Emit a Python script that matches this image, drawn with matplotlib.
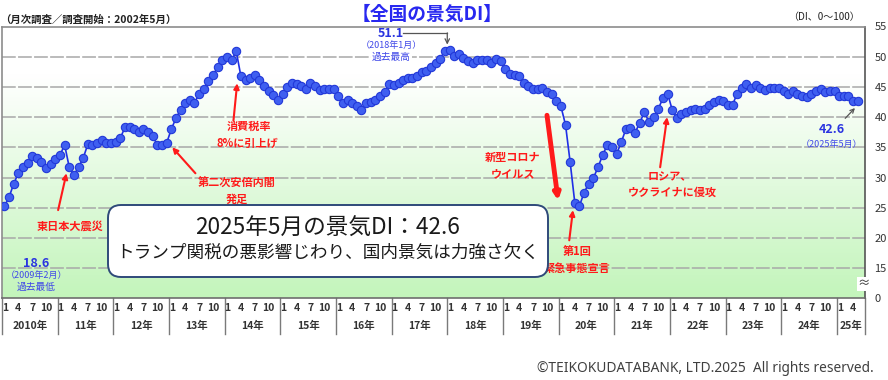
import numpy as np
import matplotlib
matplotlib.use("Agg")
import matplotlib.pyplot as plt
from matplotlib.colors import LinearSegmentedColormap
from matplotlib.patches import FancyBboxPatch

plt.rcParams['font.family'] = ['Noto Sans CJK JP', 'DejaVu Sans']

# ---- data: monthly DI, Jan 2010 .. May 2025 ----
di_values = [
    25.2, 26.7, 28.9, 30.7, 31.7, 32.4, 33.6, 33.2, 32.6, 31.5, 32.3, 33.0,   # 2010
    33.7, 35.4, 31.7, 30.4, 31.7, 33.2, 35.5, 35.3, 35.7, 36.2, 35.7, 35.7,   # 2011
    35.9, 36.5, 38.3, 38.4, 38.1, 37.6, 38.0, 37.6, 36.8, 35.4, 35.3, 35.7,   # 2012
    38.0, 39.8, 41.2, 42.4, 42.9, 42.4, 43.8, 44.6, 46.0, 46.9, 48.3, 49.4,   # 2013
    50.0, 49.4, 50.9, 46.8, 46.2, 46.4, 46.9, 46.1, 45.1, 44.4, 43.7, 42.9,   # 2014
    43.9, 45.0, 45.7, 45.5, 45.2, 44.6, 45.6, 45.1, 44.5, 44.6, 44.7, 44.7,   # 2015
    43.5, 42.4, 42.8, 42.4, 41.8, 41.2, 42.4, 42.5, 42.9, 43.5, 44.2, 45.5,   # 2016
    45.3, 45.6, 46.2, 46.4, 46.5, 46.8, 47.5, 47.7, 48.3, 49.0, 49.7, 51.0,   # 2017
    51.1, 50.1, 50.4, 49.8, 49.3, 49.0, 49.4, 49.4, 49.4, 48.9, 49.6, 49.3,   # 2018
    48.0, 47.1, 46.9, 46.8, 45.6, 45.1, 44.6, 44.6, 44.9, 44.2, 43.8, 42.7,   # 2019
    41.8, 38.7, 32.5, 25.8, 25.3, 27.5, 29.0, 29.9, 31.7, 33.7, 35.4, 35.1,   # 2020
    33.9, 35.8, 38.0, 38.2, 37.4, 39.1, 40.8, 39.2, 40.0, 41.4, 43.1, 43.9,   # 2021
    41.2, 39.8, 40.5, 40.9, 41.2, 41.4, 41.2, 41.4, 42.0, 42.5, 42.9, 42.7,   # 2022
    42.0, 42.0, 43.9, 44.8, 45.5, 44.9, 45.3, 44.9, 44.5, 44.8, 44.9, 44.9,   # 2023
    44.4, 43.8, 44.4, 43.9, 43.5, 43.3, 43.8, 44.4, 44.6, 44.2, 44.4, 44.4,   # 2024
    43.5, 43.5, 43.5, 42.7, 42.6,                                             # 2025
]
year_labels = ['2010年', '11年', '12年', '13年', '14年', '15年', '16年', '17年',
               '18年', '19年', '20年', '21年', '22年', '23年', '24年', '25年']
month_labels = ['1', '4', '7', '10']
month_offsets = [0, 3, 6, 9]
y_ticks = [10, 15, 20, 25, 30, 35, 40, 45, 50, 55]
y_tick_labels = ['0', '15', '20', '25', '30', '35', '40', '45', '50', '55']

W, H = 888, 380
fig = plt.figure(figsize=(W / 100, H / 100), dpi=100)
fig.patch.set_facecolor('white')

def fx(px):
    return px / W

def fy(py):
    return 1 - py / H

n = len(di_values)
XMIN, XMAX = -0.5, 185.5
YMIN, YMAX = 10, 55
ax = fig.add_axes([fx(2), fy(298.3), fx(864.7) - fx(2), fy(26.5) - fy(298.3)])
ax.set_xlim(XMIN, XMAX)
ax.set_ylim(YMIN, YMAX)

# background gradient
cmap = LinearSegmentedColormap.from_list('g', [(0, '#c3f5bb'), (0.82, '#ffffff'), (1, '#ffffff')])
grad = np.linspace(0, 1, 256).reshape(-1, 1)
ax.imshow(grad, extent=[XMIN, XMAX, YMIN, YMAX], origin='lower', aspect='auto',
          cmap=cmap, zorder=0)

# gridlines
for t in y_ticks[1:-1]:
    ax.axhline(t, color='#a8a8a8', lw=1.1, ls=(0, (9, 1.5)), zorder=1)

x = np.arange(n)
ax.plot(x, di_values, color='#1f2fe6', lw=1.2, marker='o', ms=6.0,
        mfc='#3f5ff0', mec='#2238d8', mew=0.8, zorder=5)

# axes styling
for s in ['left', 'top']:
    ax.spines[s].set_color('#8c8c8c')
    ax.spines[s].set_linewidth(1.2)
ax.spines['right'].set_color('#555555')
ax.spines['bottom'].set_color('#6e6e6e')
ax.spines['right'].set_linewidth(1.2)
ax.spines['bottom'].set_linewidth(1.2)
ax.set_xticks([])
ax.yaxis.tick_right()
ax.set_yticks(y_ticks)
ax.set_yticklabels(y_tick_labels, fontsize=8, color='#333333')
ax.tick_params(axis='y', length=0, pad=7)

# x label area (months + years)
sep_tr = ax.get_xaxis_transform()
for k in range(len(year_labels)):
    start = 12 * k
    ax.plot([start - 0.5, start - 0.5], [0, -0.13], transform=sep_tr, color='#7a7a7a',
            lw=1.0, clip_on=False)
    for off, lab in zip(month_offsets, month_labels):
        if start + off < n:
            ax.text(start + off + (0.15 if lab == '1' else 0), -0.035, lab, transform=sep_tr,
                    ha='center', va='center', fontsize=7.5, fontweight='bold', color='#333333')
    end = min(start + 12, XMAX + 0.5) - 0.5
    ax.text((start - 0.5 + end) / 2, -0.1, year_labels[k], transform=sep_tr,
            ha='center', va='center', fontsize=7.5, fontweight='bold', color='#333333')
ax.plot([XMAX, XMAX], [0, -0.13], transform=sep_tr, color='#7a7a7a', lw=1.0, clip_on=False)

# ---- annotations ----
red = '#ff1a1a'
blue_b = '#2a34e0'
blue_s = '#4048e8'

def red_arrow(tail, head, lw=1.5, ms=8):
    ax.annotate('', xy=head, xytext=tail,
                arrowprops=dict(arrowstyle='-|>', color=red, lw=lw, shrinkA=0, shrinkB=0,
                                mutation_scale=ms), zorder=6)

ax.text(14.2, 22.0, '東日本大震災', color=red, fontsize=8, fontweight='bold', ha='center', va='center', zorder=6)
red_arrow((11.6, 24.6), (13.4, 30.7))

ax.text(52.8, 38.4, '消費税率', color=red, fontsize=8, fontweight='bold', ha='center', va='center', zorder=6)
ax.text(52.4, 35.7, '8%に引上げ', color=red, fontsize=8, fontweight='bold', ha='center', va='center', zorder=6)
red_arrow((49.4, 39.4), (50.2, 45.6))

ax.text(50.2, 29.1, '第二次安倍内閣', color=red, fontsize=8, fontweight='bold', ha='center', va='center', zorder=6)
ax.text(50.2, 26.3, '発足', color=red, fontsize=8, fontweight='bold', ha='center', va='center', zorder=6)
red_arrow((41.2, 30.7), (36.2, 35.0))

ax.text(109.5, 33.4, '新型コロナ', color=red, fontsize=8, fontweight='bold', ha='center', va='center', zorder=6)
ax.text(109.7, 30.6, 'ウイルス', color=red, fontsize=8, fontweight='bold', ha='center', va='center', zorder=6)
red_arrow((117.0, 40.3), (119.4, 26.2), lw=3.5, ms=9)

ax.text(123.5, 17.8, '第1回', color=red, fontsize=8, fontweight='bold', ha='center', va='center', zorder=6)
ax.text(123.5, 15.0, '緊急事態宣言', color=red, fontsize=8, fontweight='bold', ha='center', va='center', zorder=6)
red_arrow((121.8, 19.6), (122.6, 24.6))

ax.text(143.5, 30.1, 'ロシア、', color=red, fontsize=8, fontweight='bold', ha='center', va='center', zorder=6)
ax.text(144.0, 27.6, 'ウクライナに侵攻', color=red, fontsize=8, fontweight='bold', ha='center', va='center', zorder=6)
red_arrow((141.4, 31.7), (142.9, 40.0))

# record low
ax.text(6.9, 15.8, '18.6', color=blue_b, fontsize=9, fontweight='bold', ha='center', va='center', zorder=6)
ax.text(6.9, 13.8, '（2009年2月）', color=blue_s, fontsize=6.5, ha='center', va='center', zorder=6)
ax.text(6.9, 11.9, '過去最低', color=blue_s, fontsize=7, ha='center', va='center', zorder=6)

# record high
ax.text(83.4, 53.9, '51.1', color=blue_b, fontsize=9, fontweight='bold', ha='center', va='center', zorder=6)
ax.plot([86.0, 95.5], [53.9, 53.9], color='#555555', lw=0.9, zorder=6)
ax.annotate('', xy=(95.5, 52.0), xytext=(95.5, 53.95),
            arrowprops=dict(arrowstyle='->', color='#555555', lw=0.9, shrinkA=0, shrinkB=0,
                            mutation_scale=8), zorder=6)
ax.text(83.4, 51.8, '（2018年1月）', color=blue_s, fontsize=6.5, ha='center', va='center', zorder=6)
ax.text(83.4, 49.95, '過去最高', color=blue_s, fontsize=7, ha='center', va='center', zorder=6,
        bbox=dict(boxstyle='square,pad=0.1', fc='white', ec='none'))

# latest
ax.text(178.4, 37.9, '42.6', color=blue_b, fontsize=9, fontweight='bold', ha='center', va='center', zorder=6)
ax.text(178.4, 35.5, '（2025年5月）', color=blue_s, fontsize=6.5, ha='center', va='center', zorder=6)
ax.annotate('', xy=(183.4, 41.5), xytext=(181.3, 39.8),
            arrowprops=dict(arrowstyle='->', color='#555555', lw=0.9, shrinkA=0, shrinkB=0,
                            mutation_scale=7), zorder=6)

# axis break mark
fig.text(fx(864), fy(284), '≈', fontsize=9, color='#333333', ha='center', va='center',
         bbox=dict(boxstyle='square,pad=0.05', fc='white', ec='none'), zorder=4)

# headings
fig.text(fx(427), fy(14), '【全国の景気DI】', color='#2828f0', fontsize=13.5, fontweight='bold',
         ha='center', va='center')
fig.text(fx(0), fy(20), '（月次調査／調査開始：2002年5月）', color='#222222', fontsize=7.5,
         fontweight='bold', ha='left', va='center')
fig.text(fx(860), fy(17), '（DI、0～100）', color='#222222', fontsize=7.2, ha='right', va='center')

# summary box
box = FancyBboxPatch((1.08, (H - 277) / 100), 4.40, 0.72,
                     boxstyle='round,pad=0,rounding_size=0.13',
                     transform=fig.dpi_scale_trans, fc='white', ec='#2f4a7a', lw=1.4, zorder=2)
fig.patches.append(box)
fig.text(fx(328), fy(228), '2025年5月の景気DI：42.6', fontsize=16.3, color='#1a1a1a',
         ha='center', va='center', zorder=3)
fig.text(fx(328), fy(253), 'トランプ関税の悪影響じわり、国内景気は力強さ欠く', fontsize=12.7,
         color='#1a1a1a', ha='center', va='center', zorder=3)

fig.text(fx(874), fy(368), '©TEIKOKUDATABANK, LTD.2025  All rights reserved.',
         fontsize=9.9, color='#404040', ha='right', va='center', family=['Noto Sans', 'DejaVu Sans'])

fig.savefig('out.png', dpi=100)
